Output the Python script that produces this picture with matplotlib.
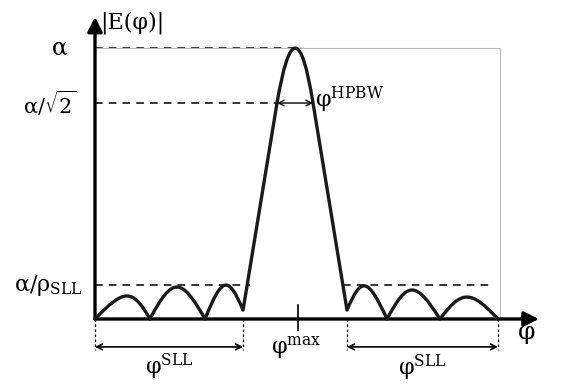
import matplotlib
matplotlib.use("Agg")
import matplotlib.pyplot as plt
from matplotlib.path import Path
from matplotlib.patches import PathPatch

# nulls / dips between lobes (phi in degrees, normalised amplitude)
null_phi = [0.0, 24.4, 48.9, 65.8, 112.0, 129.8, 153.3, 179.1]
null_amp = [0.0, 0.0, 0.0, 0.033, 0.033, 0.0, 0.0, 0.0]
# lobe maxima, main lobe is index 3
lobe_phi = [14.2, 36.4, 57.8, 89.0, 120.0, 140.9, 165.3]
lobe_amp = [0.085, 0.118, 0.125, 1.0, 0.122, 0.107, 0.081]
main_idx = 3
# half-power points
hp_phi = [80.9, 96.9]
hp_amp = 0.797
sll_amp = 0.125
sll_cross = [68.9, 110.2, 176.9]

plt.rcParams["font.family"] = ["DejaVu Serif"]
plt.rcParams["mathtext.fontset"] = "dejavuserif"
plt.rcParams["mathtext.default"] = "regular"

fig = plt.figure(figsize=(5.72, 3.87), dpi=100)
ax = fig.add_axes([95 / 572, 1 - 319 / 387, 405 / 572, 271 / 387])
ax.set_xlim(0, 180)
ax.set_ylim(0, 1)
ax.set_xticks([])
ax.set_yticks([])
for s in ["left", "bottom"]:
    ax.spines[s].set_visible(False)
for s in ["top", "right"]:
    ax.spines[s].set_color("#bbbbbb")
    ax.spines[s].set_linewidth(0.8)

# pattern as a bezier path: sine-like arcs for side lobes, parabolic top for main lobe
k = 0.4244
verts = [(null_phi[0], null_amp[0])]
codes = [Path.MOVETO]
for i in range(len(lobe_phi)):
    xa, ya = null_phi[i], null_amp[i]
    xb, yb = null_phi[i + 1], null_amp[i + 1]
    if i == main_idx:
        cx = 2 * lobe_phi[i] - (hp_phi[0] + hp_phi[1]) / 2
        cy = 2 * lobe_amp[i] - hp_amp
        verts += [(hp_phi[0], hp_amp), (cx, cy), (hp_phi[1], hp_amp), (xb, yb)]
        codes += [Path.LINETO, Path.CURVE3, Path.CURVE3, Path.LINETO]
    else:
        L = xb - xa
        s = (lobe_phi[i] - (xa + xb) / 2) * 4 / 3
        c = (8 * lobe_amp[i] - ya - yb) / 6
        verts += [(xa + k * L + s, c), (xb - k * L + s, c), (xb, yb)]
        codes += [Path.CURVE4, Path.CURVE4, Path.CURVE4]
ax.add_patch(PathPatch(Path(verts, codes), fill=False, lw=2.4, ec="#1a1a1a",
                       capstyle="round", joinstyle="round", clip_on=False, zorder=4))

# axes arrows
arr = dict(arrowstyle="-|>", lw=2.4, color="black", mutation_scale=22, shrinkA=0, shrinkB=0)
ax.annotate("", xy=(0, 1.115), xytext=(0, 0), xycoords="axes fraction", arrowprops=arr)
ax.annotate("", xy=(1.096, 0), xytext=(0, 0), xycoords="axes fraction", arrowprops=arr)

# level lines
dash = dict(color="black", lw=1.1, ls=(0, (5, 4)))
ax.plot([0, lobe_phi[main_idx]], [1, 1], **dash, clip_on=False)
ax.plot([0, hp_phi[0]], [hp_amp, hp_amp], **dash)
ax.plot([0, sll_cross[0]], [sll_amp, sll_amp], **dash)
ax.plot([sll_cross[1], sll_cross[2]], [sll_amp, sll_amp], **dash)

# HPBW arrow
ax.annotate("", xy=(hp_phi[1], hp_amp), xytext=(hp_phi[0], hp_amp),
            arrowprops=dict(arrowstyle="<->", lw=1.0, color="black", shrinkA=0, shrinkB=0))
ax.text(hp_phi[1] + 1.0, 0.81, r"$φ^{\mathrm{HPBW}}$", fontsize=16, va="center", ha="left")

# phi max tick
ax.plot([lobe_phi[main_idx] + 1, lobe_phi[main_idx] + 1], [0.052, -0.041], color="black", lw=1.2, clip_on=False)
ax.text(lobe_phi[main_idx] + 0.5, -0.105, r"$φ^{\mathrm{max}}$", fontsize=16, ha="center", va="center")

# side lobe regions below axis
dot = dict(color="black", lw=0.9, ls=(0, (2, 2)), clip_on=False)
for j in [0, main_idx, main_idx + 1, len(null_phi) - 1]:
    ax.plot([null_phi[j], null_phi[j]], [0, -0.115], **dot)
dbl = dict(arrowstyle="<->", lw=1.2, color="black", shrinkA=0, shrinkB=0)
ax.annotate("", xy=(null_phi[main_idx], -0.103), xytext=(null_phi[0], -0.103),
            xycoords="data", arrowprops=dbl, annotation_clip=False)
ax.annotate("", xy=(null_phi[-1], -0.103), xytext=(null_phi[main_idx + 1], -0.103),
            xycoords="data", arrowprops=dbl, annotation_clip=False)
ax.text((null_phi[0] + null_phi[main_idx]) / 2, -0.175, r"$φ^{\mathrm{SLL}}$", fontsize=16, ha="center", va="center")
ax.text((null_phi[main_idx + 1] + null_phi[-1]) / 2, -0.18, r"$φ^{\mathrm{SLL}}$", fontsize=16, ha="center", va="center")

# labels
ytr = ax.get_yaxis_transform()
ax.text(-0.086, 1.0, "α", fontsize=17, ha="center", va="center", transform=ytr)
ax.text(-0.111, hp_amp, r"$α/\sqrt{2}$", fontsize=15, ha="center", va="center", transform=ytr)
ax.text(-0.114, sll_amp, r"$α/ρ_{\mathrm{SLL}}$", fontsize=16, ha="center", va="center", transform=ytr)
ax.text(0.012, 1.095, "|E(φ)|", fontsize=16, ha="left", va="center", transform=ax.transAxes)
ax.text(1.043, -0.05, "φ", fontsize=18, ha="left", va="center", transform=ax.transAxes)

fig.savefig("out.png", dpi=100)
